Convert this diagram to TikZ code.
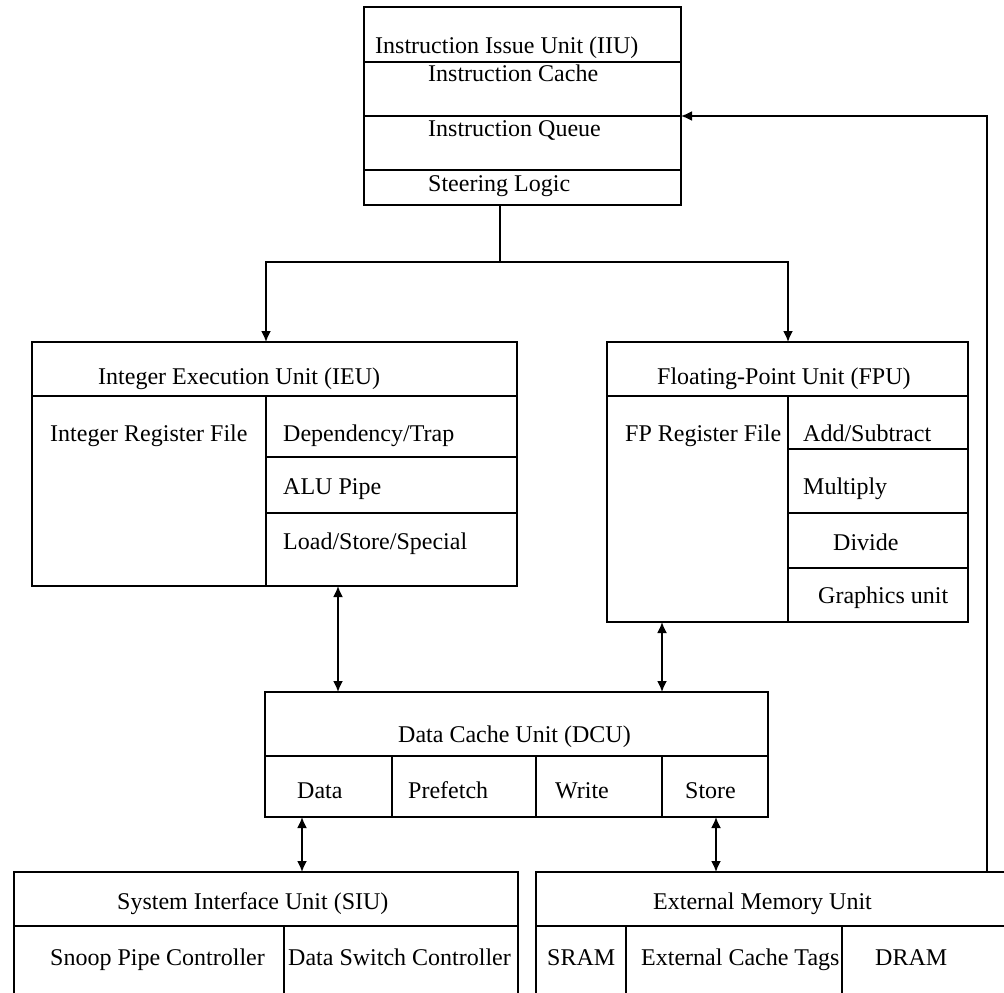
\documentclass[tikz,border=0pt]{standalone}
\usepackage{fontspec}
\setmainfont{Liberation Serif}
\usetikzlibrary{arrows.meta,calc}
\begin{document}
\begin{tikzpicture}[x=1pt,y=-1pt,
    unit/.style={draw, line width=1.8pt, inner sep=0pt, outer sep=0pt, anchor=north west},
    wire/.style={line width=1.8pt},
    txt/.style={anchor=base west, inner sep=0pt, font=\fontsize{24}{27}\selectfont},
    link/.style={wire, -{Latex[length=11pt,width=10pt]}},
    both/.style={wire, {Latex[length=11pt,width=10pt]}-{Latex[length=11pt,width=10pt]}}]
    % Canvas (bottom units run off the page)
    \useasboundingbox (0,0) rectangle (1004,993);
    \clip (0,0) rectangle (1004,993);
    % Instruction Issue Unit
    \node[unit, minimum width=317, minimum height=198] (iiu) at (364,7) {};
    \foreach \y in {62,116,170}
        \draw[wire] (364,\y) -- (681,\y);
    \node[txt] (iiutitle) at (375,53) {Instruction Issue Unit (IIU)};
    \node[txt] (icache) at (428,81) {Instruction Cache};
    \node[txt] (iqueue) at (428,136) {Instruction Queue};
    \node[txt] (steer) at (428,191) {Steering Logic};
    % Integer Execution Unit
    \node[unit, minimum width=485, minimum height=244] (ieu) at (32,342) {};
    \draw[wire] (32,396) -- (517,396);
    \draw[wire] (266,396) -- (266,586);
    \foreach \y in {457,513}
        \draw[wire] (266,\y) -- (517,\y);
    \node[txt] (ieutitle) at (98,384) {Integer Execution Unit (IEU)};
    \node[txt] (irf) at (50,441) {Integer Register File};
    \node[txt] (deptrap) at (283,441) {Dependency/Trap};
    \node[txt] (alu) at (283,494) {ALU Pipe};
    \node[txt] (lss) at (283,549) {Load/Store/Special};
    % Floating-Point Unit
    \node[unit, minimum width=361, minimum height=280] (fpu) at (607,342) {};
    \draw[wire] (607,396) -- (968,396);
    \draw[wire] (788,396) -- (788,622);
    \foreach \y in {449,513,568}
        \draw[wire] (788,\y) -- (968,\y);
    \node[txt] (fputitle) at (657,384) {Floating-Point Unit (FPU)};
    \node[txt] (fprf) at (625,441) {FP Register File};
    \node[txt] (addsub) at (803,441) {Add/Subtract};
    \node[txt] (mult) at (803,494) {Multiply};
    \node[txt] (divide) at (833,550) {Divide};
    \node[txt] (graphics) at (818,603) {Graphics unit};
    % Data Cache Unit
    \node[unit, minimum width=503, minimum height=125] (dcu) at (265,692) {};
    \draw[wire] (265,756) -- (768,756);
    \foreach \x in {392,536,662}
        \draw[wire] (\x,756) -- (\x,817);
    \node[txt] (dcutitle) at (398,742) {Data Cache Unit (DCU)};
    \node[txt] (data) at (297,798) {Data};
    \node[txt] (prefetch) at (408,798) {Prefetch};
    \node[txt] (write) at (555,798) {Write};
    \node[txt] (store) at (685,798) {Store};
    % System Interface Unit
    \node[unit, minimum width=504, minimum height=160] (siu) at (14,872) {};
    \draw[wire] (14,926) -- (518,926);
    \draw[wire] (284,926) -- (284,1032);
    \node[txt] (siutitle) at (117,909) {System Interface Unit (SIU)};
    \node[txt] (snoop) at (50,965) {Snoop Pipe Controller};
    \node[txt] (dswitch) at (288,965) {Data Switch Controller};
    % External Memory Unit
    \node[unit, minimum width=490, minimum height=160] (emu) at (536,872) {};
    \draw[wire] (536,926) -- (1026,926);
    \foreach \x in {626,842}
        \draw[wire] (\x,926) -- (\x,1032);
    \node[txt] (emutitle) at (653,909) {External Memory Unit};
    \node[txt] (sram) at (547,965) {SRAM};
    \node[txt] (ecachetags) at (641,965) {External Cache Tags};
    \node[txt] (dram) at (875,965) {DRAM};
    % Connectors
    \coordinate (split) at (500,262);
    \draw[wire] (iiu.south -| split) -- (split);
    \draw[link] (split) -| ($(ieu.north west)+(234,0)$);
    \draw[link] (split) -| ($(fpu.north west)+(181,0)$);
    \draw[both] ($(ieu.south west)+(306,0)$) -- ($(dcu.north west)+(73,0)$);
    \draw[both] ($(fpu.south west)+(55,0)$) -- ($(dcu.north west)+(397,0)$);
    \draw[both] ($(dcu.south west)+(37,0)$) -- ($(siu.north west)+(288,0)$);
    \draw[both] ($(dcu.south west)+(451,0)$) -- ($(emu.north west)+(180,0)$);
    \draw[link] ($(emu.north west)+(451,0)$) |- ($(iiu.north east)+(0,109)$);
\end{tikzpicture}
\end{document}
